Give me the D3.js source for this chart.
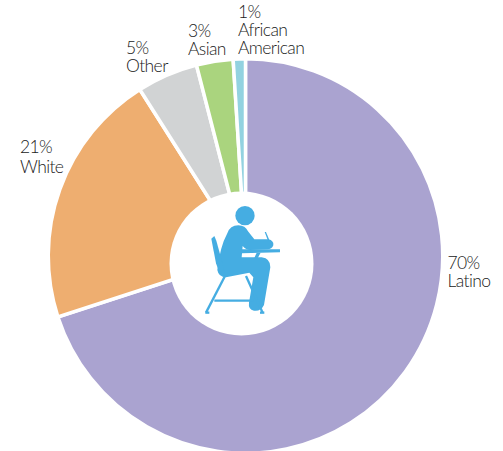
<!DOCTYPE html>
<html>
<head>
<meta charset="utf-8">
<script src="https://cdn.jsdelivr.net/npm/d3@7"></script>
<style>
  html, body { margin: 0; padding: 0; background: #fff; }
  text { font-family: Lato, "Open Sans", sans-serif; font-weight: 300; font-size: 17.5px; letter-spacing: -0.6px; fill: #1a1a1a; }
</style>
</head>
<body>
<script>
var categories = ["Latino", "White", "Other", "Asian", "African American"];
var values = [70, 21, 5, 3, 1];
var colors = ["#aaa3d0", "#eeae70", "#d1d3d4", "#aad47e", "#93d2e0"];
// label lines, wrapped like the original
var labelLines = [["70%", "Latino"], ["21%", "White"], ["5%", "Other"], ["3%", "Asian"], ["1%", "African", "American"]];
var labelX = [447.5, 20, 126, 188, 238];
var labelY = [269, 153, 54, 37, 18];
var lineGap = [18, 20, 18, 17.5, 18];

var width = 503;
var height = 451;
var svg = d3.select("body")
            .append("svg")
            .attr("width", width)
            .attr("height", height)
            .style("display", "block");

var pie = d3.pie().sort(null).value(function(d) { return d; });
// stroke eats half its width, so this shows as r=195.5
var arc = d3.arc().innerRadius(0).outerRadius(197.25);

svg.append("g")
    .attr("transform", "translate(245.5,256)")
    .selectAll("path")
    .data(pie(values))
    .enter()
    .append("path")
    .attr("d", arc)
    .attr("fill", function(d, i) { return colors[i]; })
    .attr("stroke", "white")
    .attr("stroke-width", 3.5);

// hole sits a little off centre in the original
svg.append("circle")
    .attr("cx", 241.5)
    .attr("cy", 263.5)
    .attr("r", 72)
    .attr("fill", "white");

// student icon, drawn in 3x units
var icon = svg.append("g")
    .attr("transform", "translate(170,170) scale(0.3333)")
    .attr("fill", "#45ade2")
    .attr("stroke", "none");

icon.append("circle").attr("cx", 225).attr("cy", 137).attr("r", 29);
icon.append("path").attr("d", "M172,190 Q180,166 205,166 Q226,166 234,184 L253,208 L295,208 Q312,212 310,226 Q306,238 292,238 L240,240 Q228,240 218,228 L215,262 L275,262 Q302,266 301,292 L282,405 Q272,425 252,422 Q234,418 237,398 L250,322 L238,308 L168,322 Q146,322 142,300 Q150,230 172,190 Z");
icon.append("path").attr("d", "M284,186 L288,186 L299,212 L294,212 Z");
icon.append("path").attr("d", "M124,206 L133,198 L139,212 L155,270 L165,312 L150,312 L138,280 Z");
icon.append("path").attr("d", "M216,238 L330,238 L330,247 L216,250 Z");
icon.append("path").attr("d", "M260,248 L272,248 L262,266 L252,266 Z");

var legLines = [
  [165, 318, 108, 428],
  [228, 318, 278, 428],
  [133, 392, 250, 392],
  [106, 428, 118, 428],
  [270, 428, 283, 428]
];
icon.selectAll("line")
    .data(legLines)
    .enter()
    .append("line")
    .attr("x1", function(d) { return d[0]; })
    .attr("y1", function(d) { return d[1]; })
    .attr("x2", function(d) { return d[2]; })
    .attr("y2", function(d) { return d[3]; })
    .attr("stroke", "#45ade2")
    .attr("stroke-width", 7);

var labels = svg.selectAll("text.label")
    .data(labelLines)
    .enter()
    .append("text")
    .attr("class", "label")
    .attr("x", function(d, i) { return labelX[i]; })
    .attr("y", function(d, i) { return labelY[i]; });

labels.selectAll("tspan")
    .data(function(d, i) {
      return d.map(function(t) { return { t: t, x: labelX[i], gap: lineGap[i] }; });
    })
    .enter()
    .append("tspan")
    .attr("x", function(d) { return d.x; })
    .attr("dy", function(d, j) { return j === 0 ? 0 : d.gap; })
    .text(function(d) { return d.t; });
</script>
</body>
</html>
